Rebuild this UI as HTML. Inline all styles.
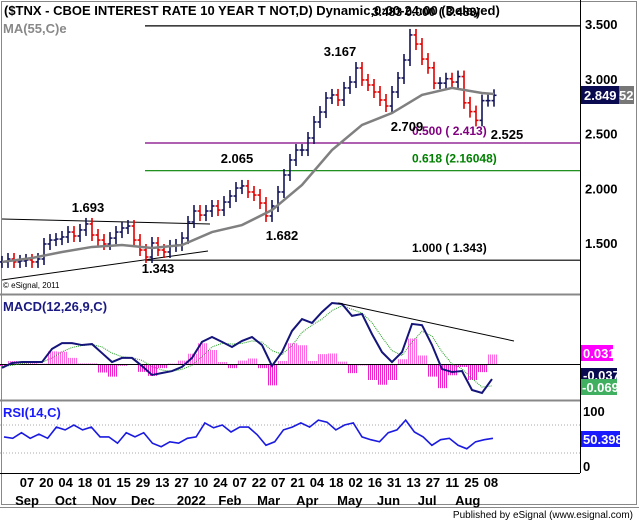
<!DOCTYPE html>
<html><head><meta charset="utf-8"><style>
body{margin:0;background:#fff;}
svg{display:block;font-family:"Liberation Sans",Arial,sans-serif;}
.b{font-weight:bold;font-size:13px;}
.ax{font-weight:bold;font-size:13px;fill:#000;}
</style></head><body>
<svg id="c" width="639" height="522" viewBox="0 0 639 522">
<rect x="0" y="0" width="639" height="522" fill="#fff"/>
<g id="frame">
<rect x="1.5" y="1.5" width="635" height="503" fill="none" stroke="#888"/>
<line x1="580.5" y1="0" x2="580.5" y2="473" stroke="#000"/>
<line x1="0" y1="294.5" x2="580" y2="294.5" stroke="#888" stroke-width="2"/>
<line x1="0" y1="400.5" x2="580" y2="400.5" stroke="#888" stroke-width="2"/>
<line x1="0" y1="473.5" x2="580" y2="473.5" stroke="#000"/>
<line x1="0" y1="507.5" x2="639" y2="507.5" stroke="#888"/>
</g>
<g id="price"></g><g id="macd"></g><g id="rsi"></g><g id="axes"></g>
<text x="4" y="15" class="b">($TNX - CBOE INTEREST RATE 10 YEAR T NOT,D) Dynamic,0:00-24:00 (Delayed)</text>
<text x="3" y="33" font-size="13" font-weight="bold" fill="#888">MA(55,C)e</text>
<text x="3" y="288" font-size="8">© eSignal, 2011</text>
<text x="3" y="311" font-size="13" font-weight="bold" fill="#1a1a80">MACD(12,26,9,C)</text>
<text x="3" y="417" font-size="13" font-weight="bold" fill="#1a1aff">RSI(14,C)</text>
<text x="633" y="518" font-size="10" text-anchor="end">Published by eSignal (www.esignal.com)</text>
</svg>
<script>
const priceCloses=[1.327,1.354,1.327,1.336,1.345,1.327,1.354,1.491,1.527,1.536,1.555,1.600,1.564,1.619,1.674,1.573,1.527,1.491,1.545,1.600,1.637,1.655,1.527,1.436,1.372,1.500,1.436,1.418,1.473,1.482,1.545,1.692,1.792,1.755,1.792,1.838,1.801,1.874,1.929,2.002,2.021,1.966,1.938,1.865,1.747,1.838,1.966,2.121,2.258,2.349,2.349,2.459,2.605,2.696,2.824,2.852,2.806,2.916,2.970,3.098,2.989,2.943,2.879,2.806,2.751,2.879,3.007,3.171,3.400,3.317,3.180,3.100,2.960,2.960,3.000,2.970,3.020,2.780,2.700,2.620,2.800,2.800,2.849];
const maValues=[1.327,1.363,1.418,1.464,1.482,1.454,1.482,1.600,1.664,1.801,2.030,2.349,2.578,2.687,2.852,2.916,2.870];
const macdValues=[-0.016,0.004,0.008,0.008,0.008,0.062,0.086,0.086,0.078,0.082,0.045,0.008,0.025,0.025,-0.008,-0.045,-0.037,-0.029,-0.012,0.025,0.091,0.111,0.091,0.070,0.095,0.111,0.078,-0.008,0.049,0.136,0.185,0.169,0.214,0.251,0.247,0.198,0.206,0.123,0.049,0.008,0.049,0.165,0.160,0.078,-0.021,-0.033,-0.029,-0.107,-0.119,-0.062];
const signalValues=[-0.010,-0.005,0.002,0.005,0.007,0.025,0.050,0.068,0.076,0.080,0.070,0.045,0.030,0.026,0.015,-0.010,-0.025,-0.030,-0.022,-0.005,0.030,0.070,0.085,0.082,0.085,0.095,0.090,0.055,0.040,0.075,0.130,0.160,0.185,0.220,0.240,0.225,0.210,0.170,0.110,0.055,0.035,0.090,0.135,0.115,0.050,0.000,-0.020,-0.060,-0.095,-0.090];
const rsiValues=[53,51,59,51,57,51,67,63,70,63,67,53,53,44,59,53,59,44,39,46,44,51,53,73,66,70,60,67,67,56,41,46,63,67,73,67,77,74,63,70,73,53,49,46,59,63,77,60,53,41,49,51,41,36,46,49,51];
const priceTicks=["3.500","3.000","2.500","2.000","1.500"];
const priceTickValues=[3.5,3.0,2.5,2.0,1.5];
const dayLabels=["07","20","04","18","01","15","29","13","27","10","24","07","22","07","21","04","18","02","16","31","13","27","11","25","08"];
const monthLabels=["Sep","Oct","Nov","Dec","2022","Feb","Mar","Apr","May","Jun","Jul","Aug"];
const monthSlots=[0,2,4,6,8.5,10.5,12.5,14.5,16.7,18.7,20.7,22.8];
const fibLevels=[3.483,2.413,2.16048,1.343];
const fibTexts=["3.483  0.000 ( 3.483)","0.500 ( 2.413)","0.618 (2.16048)","1.000 ( 1.343)"];

const NS="http://www.w3.org/2000/svg";
function mk(p,t,a){const e=document.createElementNS(NS,t);for(const k in a)e.setAttribute(k,a[k]);p.appendChild(e);return e;}
const yP=v=>24+(3.5-v)*109.5;
const xP=i=>2+i*6;
const xMA=i=>2+i*30;
const xM=i=>2+i*10;
const yM=v=>364-v*243;
const xR=i=>4+i*(489/(rsiValues.length-1));
const yR=v=>474-v*0.7;
const gP=document.getElementById('price'),gM=document.getElementById('macd'),gR=document.getElementById('rsi'),gA=document.getElementById('axes');

let e=mk(gP,'line',{x1:2,y1:219,x2:210,y2:224,stroke:'#000'});


e=mk(gP,'line',{x1:2,y1:280,x2:208,y2:251,stroke:'#000'});


const fibCols=['#000','#800080','#008000','#000'];
fibLevels.forEach((v,i)=>{
 const l=mk(gP,'line',{x1:145,y1:yP(v),x2:580,y2:yP(v),stroke:fibCols[i],'stroke-width':1.2});
 
 
 const t=mk(gP,'text',{x:i==0?372:412,y:i==0?yP(v)-10:yP(v)-8,fill:fibCols[i],'font-size':12,'font-weight':'bold'});
 t.textContent=fibTexts[i];
 
 
});
priceCloses.forEach((c,i)=>{
 const o=i?priceCloses[i-1]:c;const x=xP(i);
 const col=c>=o?'#14145a':'#e00000';
 const hi=Math.min(yP(o),yP(c))-6,lo=Math.max(yP(o),yP(c))+6;
 const b=mk(gP,'g',{stroke:col,'stroke-width':1.6});
 
 
 mk(b,'line',{x1:x,y1:hi,x2:x,y2:lo});
 mk(b,'line',{x1:x-2.5,y1:yP(o),x2:x,y2:yP(o)});
 mk(b,'line',{x1:x,y1:yP(c),x2:x+2.5,y2:yP(c)});
});
e=mk(gP,'polyline',{points:maValues.map((v,i)=>xMA(i)+','+yP(v)).join(' ')+' 494,'+yP(2.861),fill:'none',stroke:'#808080','stroke-width':2.5});


const pl=[["1.693",88,212],["1.343",158,273],["2.065",237,163],["1.682",282,240],["3.167",340,56],["2.709",407,131],["2.525",507,139]];
pl.forEach(p=>{const t=mk(gP,'text',{x:p[1],y:p[2],'font-size':13,'font-weight':'bold','text-anchor':'middle'});t.textContent=p[0];
 
 });
priceTickValues.forEach((v,i)=>{const t=mk(gA,'text',{x:585,y:yP(v)+5,class:'ax'});t.textContent=priceTicks[i];
 
 });
mk(gA,'rect',{x:581,y:86,width:38,height:18,fill:'#0a0a50'});
mk(gA,'rect',{x:619,y:86,width:15,height:18,fill:'#777'});
let tt=mk(gA,'text',{x:584,y:100,fill:'#fff','font-size':13,'font-weight':'bold'});tt.textContent='2.849';


tt=mk(gA,'text',{x:619,y:100,fill:'#fff','font-size':13,'font-weight':'bold'});tt.textContent='52';
// MACD
macdValues.forEach((m,i)=>{const h=(m-signalValues[i])*1.4;const y0=yM(0),y1=yM(h);
 const g=mk(gM,'g',{stroke:h>=0?'#ff66e6':'#f020d0','stroke-width':1});
 
 
 for(let k=-4;k<5;k+=2)mk(g,'line',{x1:xM(i)+k+0.5,y1:y0,x2:xM(i)+k+0.5,y2:y1});});
e=mk(gM,'line',{x1:0,y1:364.5,x2:580,y2:364.5,stroke:'#000'});


e=mk(gM,'polyline',{points:signalValues.map((v,i)=>xM(i)+','+yM(v)).join(' '),fill:'none',stroke:'#20a020','stroke-width':1,'stroke-dasharray':'1,1'});


e=mk(gM,'polyline',{points:macdValues.map((v,i)=>xM(i)+','+yM(v)).join(' '),fill:'none',stroke:'#14147a','stroke-width':2});


e=mk(gM,'line',{x1:338,y1:303,x2:514,y2:341,stroke:'#000'});


mk(gA,'rect',{x:581,y:345,width:32,height:16,fill:'#ff00ff'});
tt=mk(gA,'text',{x:583,y:358,fill:'#fff','font-size':13,'font-weight':'bold'});tt.textContent='0.031';


mk(gA,'rect',{x:581,y:368,width:36,height:12,fill:'#0a0a50'});
tt=mk(gA,'text',{x:583,y:380,fill:'#fff','font-size':13,'font-weight':'bold'});tt.textContent='-0.037';
mk(gA,'rect',{x:581,y:379,width:36,height:16,fill:'#40b060'});
tt=mk(gA,'text',{x:582,y:392,fill:'#fff','font-size':13,'font-weight':'bold'});tt.textContent='-0.069';


// RSI
[70,30].forEach(v=>{const l=mk(gR,'line',{x1:0,y1:yR(v),x2:580,y2:yR(v),stroke:'#aaa','stroke-dasharray':'1,2'});
 
 });
e=mk(gR,'polyline',{points:rsiValues.map((v,i)=>xR(i)+','+yR(v)).join(' '),fill:'none',stroke:'#1a1ae0','stroke-width':1.6});


tt=mk(gA,'text',{x:583,y:416,class:'ax'});tt.textContent='100';
tt=mk(gA,'text',{x:583,y:471,class:'ax'});tt.textContent='0';
mk(gA,'rect',{x:581,y:431,width:39,height:16,fill:'#1a1aff'});
tt=mk(gA,'text',{x:583,y:444,fill:'#fff','font-size':13,'font-weight':'bold'});tt.textContent='50.398';


const xD=i=>27+i*19.33;
dayLabels.forEach((d,i)=>{const t=mk(gA,'text',{x:xD(i),y:487,class:'ax','text-anchor':'middle'});t.textContent=d;
 
 });
monthLabels.forEach((m,i)=>{const t=mk(gA,'text',{x:xD(monthSlots[i]),y:505,class:'ax','text-anchor':'middle'});t.textContent=m;
 
 });
</script>
</body></html>
